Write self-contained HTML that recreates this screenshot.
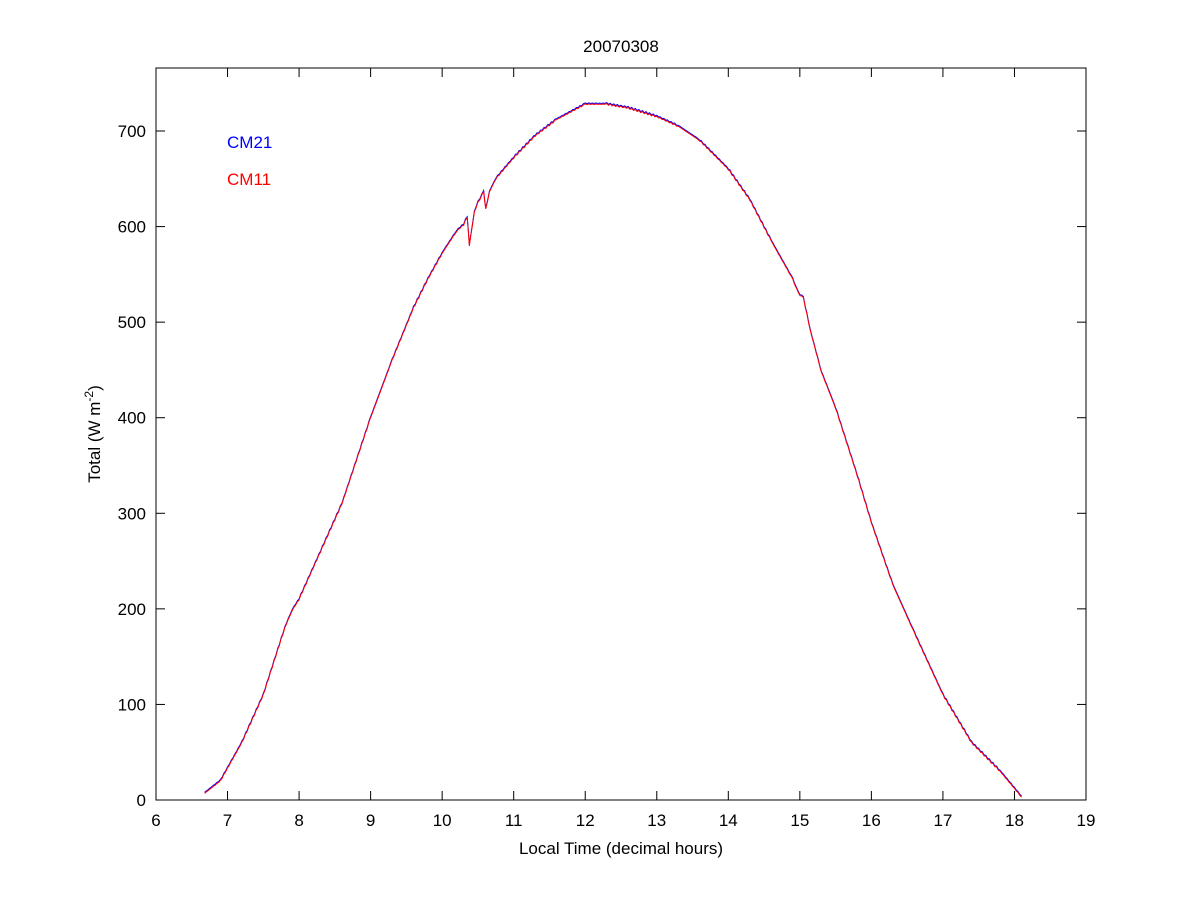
<!DOCTYPE html>
<html><head><meta charset="utf-8"><style>
html,body{margin:0;padding:0;background:#fff;}
svg{display:block;font-family:"Liberation Sans",Arial,sans-serif;}
</style></head><body>
<svg id="s" width="1200" height="900" xmlns="http://www.w3.org/2000/svg">
<rect x="0" y="0" width="1200" height="900" fill="#fff"/>
<rect x="156" y="68" width="930" height="732" fill="none" stroke="#000" stroke-width="1"/>
<g id="ticks" stroke="#000" stroke-width="1"></g>
<g id="labels" font-size="17" fill="#000"></g>
<text x="621" y="52" font-size="17" text-anchor="middle">20070308</text>
<text x="621" y="854" font-size="17" text-anchor="middle">Local Time (decimal hours)</text>
<text transform="translate(100,434) rotate(-90)" font-size="17" text-anchor="middle">Total (W m<tspan dy="-7" font-size="12">-2</tspan><tspan dy="7">)</tspan></text>
<text x="227" y="148" font-size="17" fill="#0000ff">CM21</text>
<text x="227" y="185" font-size="17" fill="#ff0000">CM11</text>
<polyline id="b" fill="none" stroke="#0000ff" stroke-width="1"/>
<polyline id="r" fill="none" stroke="#ff0000" stroke-width="1"/>
</svg>
<script>
var X=function(h){return 156+(h-6)*930/13;},Y=function(v){return 800-v*0.9557;};
var t=document.getElementById('ticks'),l=document.getElementById('labels'),ns='http://www.w3.org/2000/svg';
function el(p,n,a,txt){var e=document.createElementNS(ns,n);for(var k in a)e.setAttribute(k,a[k]);if(txt!==undefined)e.textContent=txt;p.appendChild(e);}
for(var h=6;h<=19;h++){var x=X(h);el(t,'line',{x1:x,y1:800,x2:x,y2:791});el(t,'line',{x1:x,y1:68,x2:x,y2:77});el(l,'text',{x:x,y:826,'text-anchor':'middle'},h);}
for(var v=0;v<=700;v+=100){var y=Y(v);el(t,'line',{x1:156,y1:y,x2:165,y2:y});el(t,'line',{x1:1086,y1:y,x2:1077,y2:y});el(l,'text',{x:146,y:y+6,'text-anchor':'end'},v);}
var P=[[6.68,7],[6.9,20],[7.2,60],[7.5,110],[7.8,180],[7.9,198],[8,210],[8.3,260],[8.6,310],[9,400],[9.3,460],[9.6,515],[9.8,545],[10,572],[10.2,595],[10.3,602],[10.35,610],[10.38,580],[10.45,615],[10.5,625],[10.58,636],[10.61,618],[10.66,636],[10.75,650],[11,672],[11.3,695],[11.6,712],[12,728],[12.3,728],[12.6,724],[13,715],[13.3,705],[13.6,690],[14,660],[14.3,628],[14.6,585],[14.9,545],[14.98,530],[15.05,525],[15.15,490],[15.3,448],[15.5,410],[15.8,340],[16,290],[16.3,225],[16.6,175],[17,110],[17.4,60],[17.8,30],[18.1,3]];
var pts=[];
for(var i=0;i<P.length-1;i++){var a=P[i],c=P[i+1],n=Math.max(2,Math.round((c[0]-a[0])*40));for(var j=0;j<n;j++){var f=j/n,hh=a[0]+(c[0]-a[0])*f,vv=a[1]+(c[1]-a[1])*f+(Math.sin(i*7+j*3.1)*0.8);pts.push([X(hh),Y(vv)]);}}
pts.push([X(18.1),Y(3)]);
document.getElementById('b').setAttribute('points',pts.map(function(p){return p[0]+','+(p[1]-1);}).join(' '));
document.getElementById('r').setAttribute('points',pts.map(function(p){return p[0]+','+p[1];}).join(' '));
</script>
</body></html>
